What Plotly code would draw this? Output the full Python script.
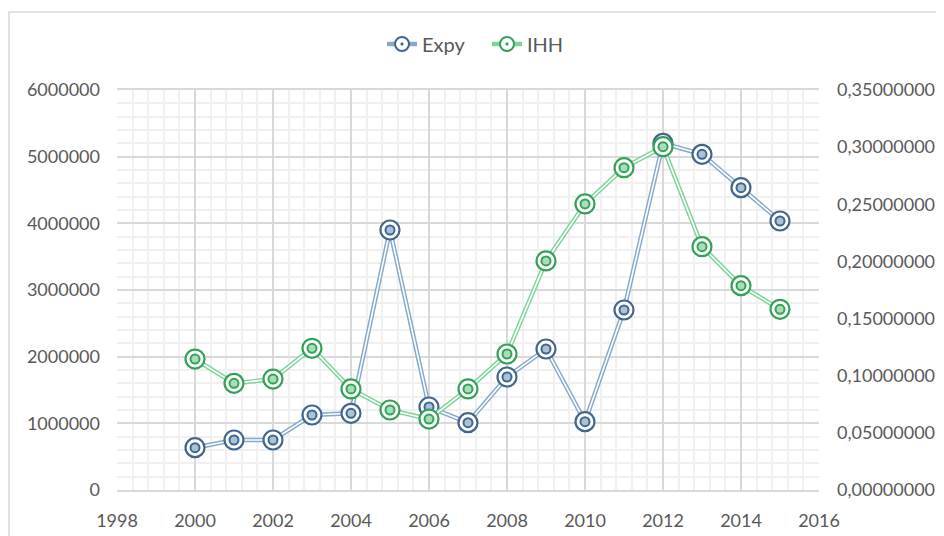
import plotly.graph_objects as go

years = list(range(2000, 2016))
expy = [635000, 750000, 750000, 1125000, 1150000, 3900000, 1245000, 1010000,
        1695000, 2115000, 1025000, 2700000, 5200000, 5035000, 4535000, 4035000]
ihh = [0.1146, 0.0933, 0.0971, 0.1240, 0.0884, 0.0700, 0.0621, 0.0884,
       0.1190, 0.2004, 0.2503, 0.2820, 0.3004, 0.2129, 0.1788, 0.1581]

x_ticks = list(range(1998, 2017, 2))
left_ticks = [0, 1000000, 2000000, 3000000, 4000000, 5000000, 6000000]
right_ticks = [0.0, 0.05, 0.10, 0.15, 0.20, 0.25, 0.30, 0.35]

series = [
    dict(name="Expy", y=expy, axis="y", dark="#40668e", light="#86a9ca", fill="#a9c3dc"),
    dict(name="IHH", y=ihh, axis="y2", dark="#33a156", light="#7dd49a", fill="#a6e0b8"),
]

fig = go.Figure()
for s in series:
    fig.add_trace(go.Scatter(x=years, y=s["y"], yaxis=s["axis"], name=s["name"],
                             mode="lines+markers",
                             line=dict(color=s["light"], width=4.5),
                             marker=dict(symbol="circle-dot", size=14, color="white",
                                         line=dict(color=s["dark"], width=2)),
                             hoverinfo="skip"))
    fig.add_trace(go.Scatter(x=years, y=s["y"], yaxis=s["axis"], mode="lines",
                             line=dict(color="white", width=1.6),
                             showlegend=False, hoverinfo="skip"))
for s in series:
    fig.add_trace(go.Scatter(x=years, y=s["y"], yaxis=s["axis"], mode="markers",
                             marker=dict(symbol="circle", size=19, color="white",
                                         line=dict(color=s["dark"], width=2.2)),
                             showlegend=False, hoverinfo="skip"))
    fig.add_trace(go.Scatter(x=years, y=s["y"], yaxis=s["axis"], mode="markers",
                             marker=dict(symbol="circle", size=9, color=s["fill"],
                                         line=dict(color=s["dark"], width=2)),
                             showlegend=False, hoverinfo="skip"))

font = dict(family="Lato", size=18, color="#595959")

fig.update_layout(
    width=936, height=528,
    margin=dict(l=109, r=125, t=82, b=46, autoexpand=False),
    paper_bgcolor="white", plot_bgcolor="white",
    separators=",.",
    font=font,
    showlegend=True,
    legend=dict(orientation="h", x=0.3775, y=1.115, xanchor="left", yanchor="middle",
                font=dict(family="Lato", size=20, color="#595959"),
                bgcolor="rgba(0,0,0,0)", entrywidth=60, entrywidthmode="pixels"),
    xaxis=dict(range=[1998, 2016], tickvals=x_ticks, ticktext=[str(v) for v in x_ticks],
               showgrid=True, gridcolor="#d9d9d9", gridwidth=1.5,
               minor=dict(dtick=0.4, tick0=1998, showgrid=True, gridcolor="#f0f0f0", gridwidth=1.5),
               zeroline=False, showline=True, linecolor="#d9d9d9", linewidth=1.5, mirror=True,
               ticks="", ticklabelstandoff=14, tickfont=font, automargin=False),
    yaxis=dict(range=[0, 6000000], tickvals=left_ticks, ticktext=[str(v) for v in left_ticks],
               showgrid=True, gridcolor="#d9d9d9", gridwidth=1.5,
               minor=dict(dtick=200000, showgrid=True, gridcolor="#f0f0f0", gridwidth=1.5),
               zeroline=False, showline=False, ticks="", ticklabelstandoff=16, tickfont=font,
               automargin=False),
    yaxis2=dict(range=[0, 0.35], overlaying="y", side="right", tickvals=right_ticks,
                tickformat=".8f", showgrid=False, zeroline=False, showline=False,
                ticks="", ticklabelstandoff=17, tickfont=font, automargin=False),
    shapes=[dict(type="rect", xref="paper", yref="paper", x0=-0.1538, y0=-0.3,
                 x1=1.3, y1=1.195, line=dict(color="#d9d9d9", width=1.5),
                 fillcolor="rgba(0,0,0,0)", layer="below")],
)

fig.write_html("out.html")
